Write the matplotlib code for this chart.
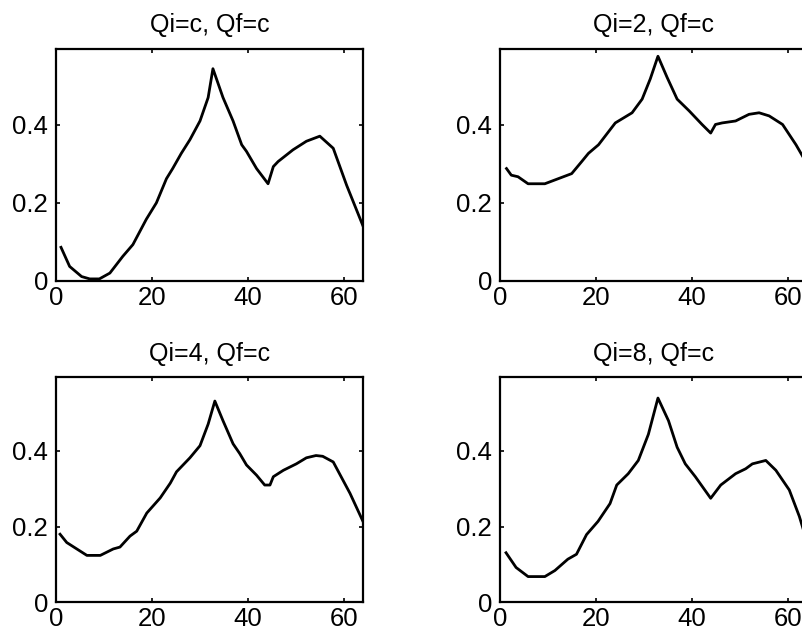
import numpy as np
import matplotlib
matplotlib.use("Agg")
import matplotlib.pyplot as plt

plt.rcParams['font.family'] = ['Liberation Sans', 'DejaVu Sans']

# %% values
titles = ["Qi=c, Qf=c", "Qi=2, Qf=c", "Qi=4, Qf=c", "Qi=8, Qf=c"]

x_c = [1, 2.8, 5.3, 7, 9, 11.2, 13.9, 16, 18.8, 20.9, 23, 24.3, 26.1, 27.9, 30,
       31.7, 32.7, 34.8, 36.9, 38.7, 39.7, 41.8, 44.2, 45.3, 46.3, 49.4, 52.2,
       55, 57.8, 60.6, 64]
y_c = [0.086, 0.037, 0.011, 0.005, 0.005, 0.02, 0.063, 0.093, 0.158, 0.20, 0.262,
       0.288, 0.327, 0.362, 0.41, 0.47, 0.544, 0.47, 0.41, 0.349, 0.332, 0.288,
       0.249, 0.293, 0.306, 0.336, 0.358, 0.371, 0.34, 0.245, 0.141]

x_2 = [1.3, 2.3, 3.7, 5.8, 9.3, 12.1, 14.9, 17, 18.4, 20.5, 24, 27.5, 29.6, 31.3,
       32.9, 34.8, 36.9, 39.4, 42.1, 43.9, 44.9, 46.3, 49.1, 51.9, 54, 56.1,
       58.9, 61.7, 64]
y_2 = [0.288, 0.271, 0.267, 0.249, 0.249, 0.262, 0.275, 0.306, 0.327, 0.349,
       0.405, 0.431, 0.466, 0.518, 0.576, 0.522, 0.466, 0.436, 0.401, 0.379,
       0.401, 0.405, 0.41, 0.427, 0.431, 0.423, 0.401, 0.349, 0.30]

x_4 = [0.8, 2.2, 4.3, 6.4, 9.2, 11.9, 13.3, 15.4, 16.8, 18.9, 21.7, 23.8, 25.1,
       27.9, 30, 31.7, 33.1, 34.8, 36.9, 38.3, 39.7, 41.8, 43.5, 44.6, 45.3,
       47.4, 50.1, 52.2, 54.2, 55.6, 57.8, 61.3, 64]
y_4 = [0.18, 0.158, 0.141, 0.124, 0.124, 0.141, 0.146, 0.175, 0.188, 0.236,
       0.276, 0.315, 0.345, 0.382, 0.414, 0.471, 0.532, 0.48, 0.419, 0.393,
       0.363, 0.336, 0.31, 0.31, 0.332, 0.349, 0.366, 0.382, 0.388, 0.386,
       0.371, 0.288, 0.214]

x_8 = [1.2, 3.3, 5.8, 9.3, 11.4, 14.1, 15.9, 18, 20.4, 22.9, 24.3, 26.7, 28.8,
       30.9, 32.9, 35.1, 36.9, 38.6, 40.7, 43.9, 46, 49.1, 51.2, 52.6, 55.4,
       57.5, 60.3, 62.4, 64]
y_8 = [0.131, 0.092, 0.068, 0.068, 0.084, 0.114, 0.127, 0.179, 0.214, 0.261,
       0.31, 0.34, 0.375, 0.444, 0.54, 0.48, 0.41, 0.366, 0.332, 0.275, 0.31,
       0.34, 0.353, 0.366, 0.375, 0.349, 0.297, 0.227, 0.16]

xs = [x_c, x_2, x_4, x_8]
ys = [y_c, y_2, y_4, y_8]

x_ticks = [0, 20, 40, 60]
y_ticks = [0, 0.2, 0.4]
y_ticklabels = ["0", "0.2", "0.4"]

# %%
fig = plt.figure(figsize=(8.03, 6.34), dpi=100)

# axes boxes in figure fractions (right column runs off the page)
boxes = [[0.070, 0.557, 0.382, 0.366],
         [0.623, 0.557, 0.382, 0.366],
         [0.070, 0.050, 0.382, 0.355],
         [0.623, 0.050, 0.382, 0.355]]

for k in range(4):
    ax = fig.add_axes(boxes[k])
    ax.plot(xs[k], ys[k], color='black', lw=2.0)
    ax.set_xlim(0, 64)
    ax.set_ylim(0, 0.595)
    ax.set_xticks(x_ticks)
    ax.set_yticks(y_ticks, labels=y_ticklabels)
    ax.tick_params(direction='in', length=3, width=1.2, top=True, right=True,
                   labelsize=18.5, colors='black')
    ax.tick_params(axis='x', pad=3.5)
    ax.tick_params(axis='y', pad=6)
    for s in ax.spines.values():
        s.set_linewidth(1.6)
    ax.set_title(titles[k], fontsize=18, pad=12)

fig.savefig("out.png", dpi=100)
